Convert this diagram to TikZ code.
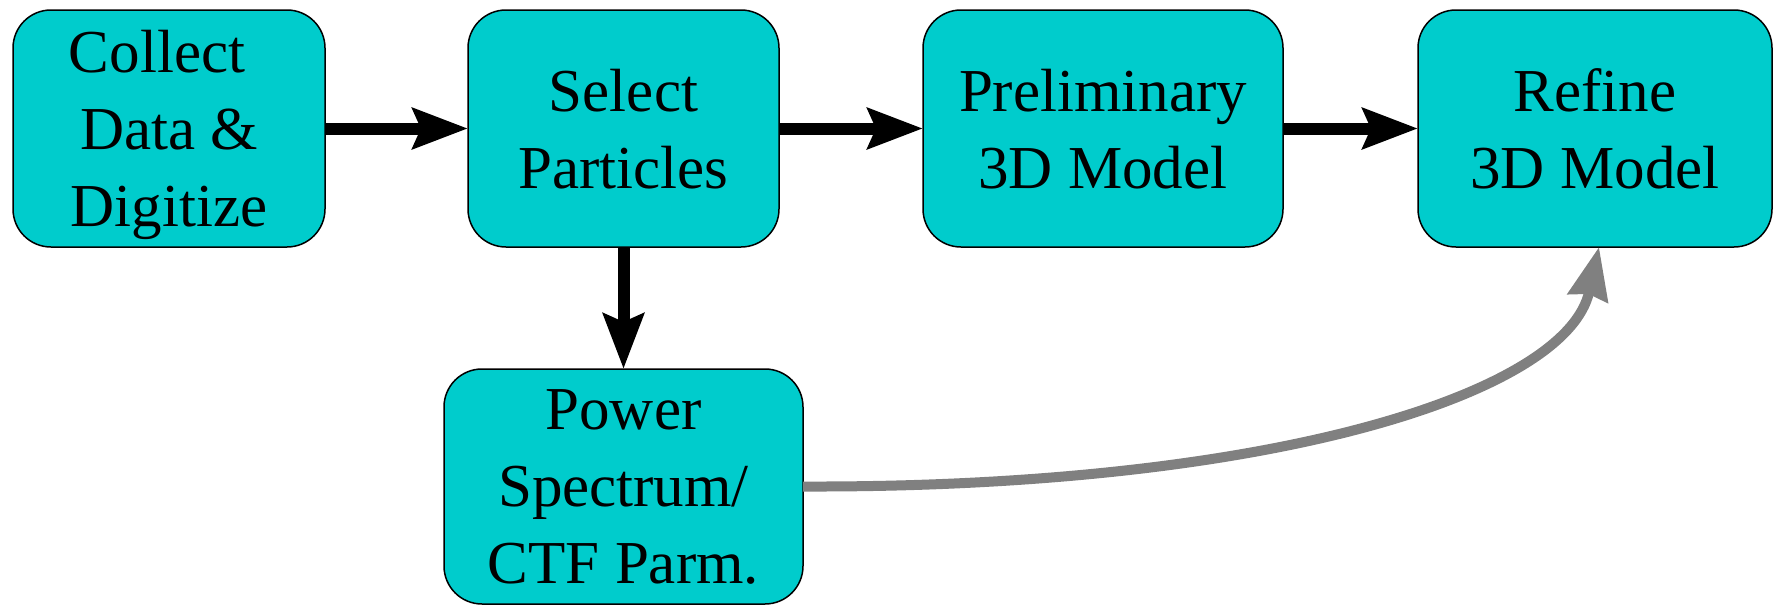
\documentclass[tikz,border=0pt]{standalone}
\usepackage{fontspec}
\setmainfont{Liberation Serif}
\usetikzlibrary{arrows.meta,calc}
\definecolor{boxcyan}{RGB}{0,204,204}
\definecolor{arrgray}{RGB}{128,128,128}
\tikzset{
  stepbox/.style={draw=black, line width=0.75pt, fill=boxcyan, rounded corners=19pt,
    inner sep=0pt, outer sep=0pt, align=center, text depth=0pt,
    font=\fontsize{30.5pt}{38.5pt}\selectfont},
  blkarrow/.style={line width=6pt, -{Stealth[length=27.5pt,width=20pt,inset=4pt]}},
  grayarrow/.style={line width=5pt, draw=arrgray, -{Stealth[length=26pt,width=20pt,inset=2pt,fill=arrgray]}}
}
\begin{document}
\begin{tikzpicture}[x=0.5pt,y=-0.5pt]
\useasboundingbox (0,0) rectangle (1777,605);
\node[stepbox, minimum width=156pt, minimum height=118.5pt] (collect) at (169,128.5) {Collect\rule{12pt}{0pt}\\Data \&\\Digitize};
\node[stepbox, minimum width=155.5pt, minimum height=118.5pt] (select) at (623.5,128.5) {Select\\Particles};
\node[stepbox, minimum width=180pt, minimum height=118.5pt] (prelim) at (1103,128.5) {Preliminary\\3D Model};
\node[stepbox, minimum width=177pt, minimum height=118.5pt] (refine) at (1595,128.5) {Refine\\3D Model};
\node[stepbox, minimum width=179.5pt, minimum height=117.5pt] (power) at (623.5,486.5) {Power\\Spectrum/\\CTF Parm.};
\coordinate (tip) at ($(refine.south)+(4,0)$);
\draw[blkarrow] (collect) -- (select);
\draw[blkarrow] (select) -- (prelim);
\draw[blkarrow] (prelim) -- (refine);
\draw[blkarrow] (select) -- (power);
\draw[grayarrow] (power.east) .. controls (1273,488) and (1567,393) .. (tip);
\end{tikzpicture}
\end{document}
